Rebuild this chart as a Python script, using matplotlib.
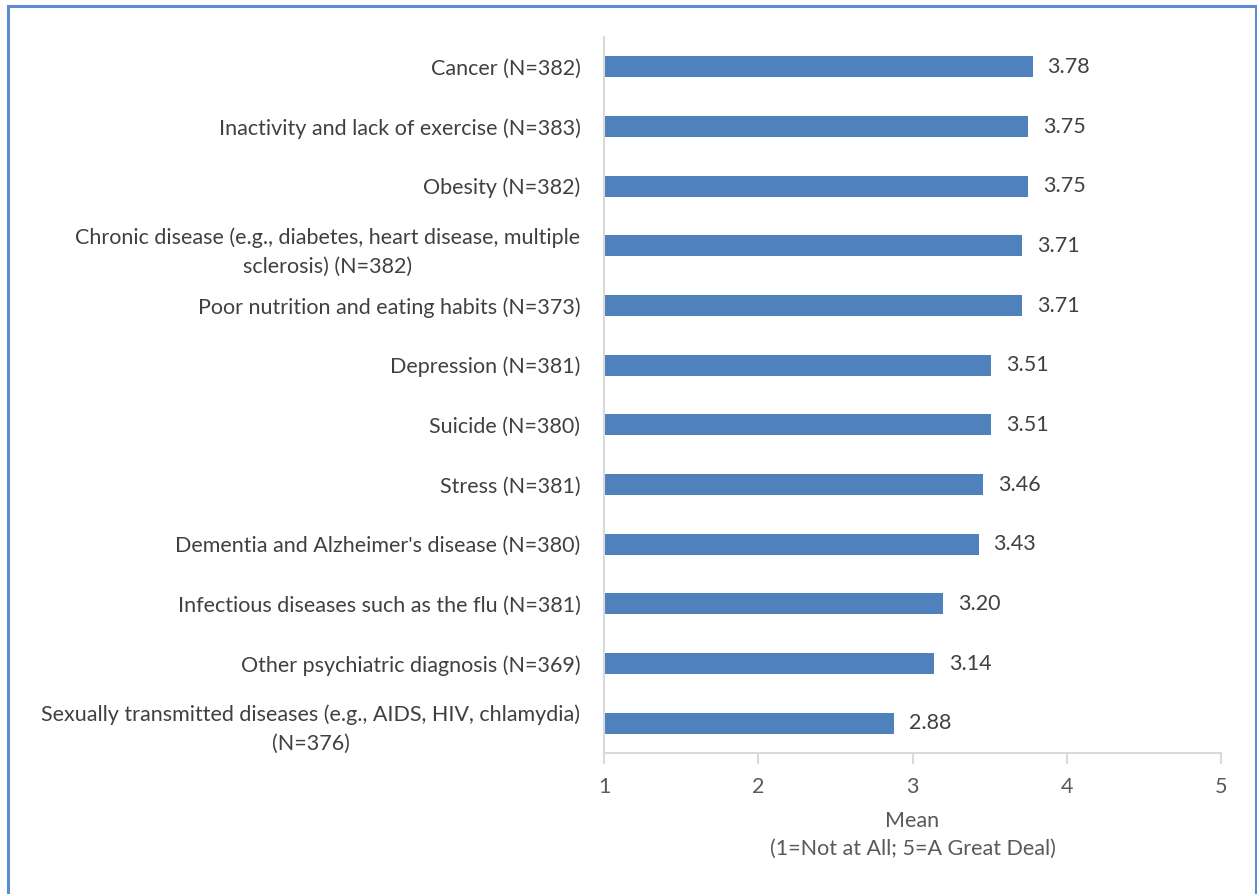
import matplotlib.pyplot as plt
from matplotlib.patches import Rectangle

# categories top to bottom and their mean scores
labels = [
    "Cancer (N=382)",
    "Inactivity and lack of exercise (N=383)",
    "Obesity (N=382)",
    "Chronic disease (e.g., diabetes, heart disease, multiple\nsclerosis) (N=382)",
    "Poor nutrition and eating habits (N=373)",
    "Depression (N=381)",
    "Suicide (N=380)",
    "Stress (N=381)",
    "Dementia and Alzheimer's disease (N=380)",
    "Infectious diseases such as the flu (N=381)",
    "Other psychiatric diagnosis (N=369)",
    "Sexually transmitted diseases (e.g., AIDS, HIV, chlamydia)\n(N=376)",
]
means = [3.78, 3.75, 3.75, 3.71, 3.71, 3.51, 3.51, 3.46, 3.43, 3.20, 3.14, 2.88]
x_ticks = [1, 2, 3, 4, 5]

plt.rcParams['font.family'] = ['Lato', 'DejaVu Sans']

fig = plt.figure(figsize=(12.57, 8.94), dpi=100)
ax = fig.add_axes([0.4805, 0.1577, 0.4909, 0.8009])

pos = list(range(len(labels)))
ax.barh(pos, [m - 1 for m in means], left=1, height=0.35, color="#4F81BD")
for p, m in zip(pos, means):
    ax.text(m + 0.095, p, f"{m:.2f}", va="center", ha="left", fontsize=15.5, color="#404040")

ax.set_xlim(1, 5)
ax.set_ylim(len(labels) - 0.5, -0.5)
ax.set_xticks(x_ticks)
ax.set_xticklabels([str(t) for t in x_ticks], fontsize=15.5, color="#595959")
ax.set_yticks(pos)
ax.set_yticklabels(labels, fontsize=15.5, color="#404040", multialignment="center",
                   linespacing=1.55)
ax.tick_params(axis="y", length=0, pad=17)
ax.tick_params(axis="x", length=8, color="#D9D9D9", width=1.5, pad=9)

for s in ["top", "right"]:
    ax.spines[s].set_visible(False)
ax.spines["left"].set_color("#D9D9D9")
ax.spines["left"].set_linewidth(1.5)
ax.spines["bottom"].set_color("#D9D9D9")
ax.spines["bottom"].set_linewidth(1.5)

ax.set_xlabel("Mean\n(1=Not at All; 5=A Great Deal)", fontsize=15.5, color="#595959",
              labelpad=10, linespacing=1.5)

# outer border of the chart area
fig.patches.append(Rectangle((0.0064, -0.01), 0.9928, 1.003, transform=fig.transFigure,
                             fill=False, edgecolor="#5B8BD0", linewidth=2.2))

fig.savefig("out.png", dpi=100)
